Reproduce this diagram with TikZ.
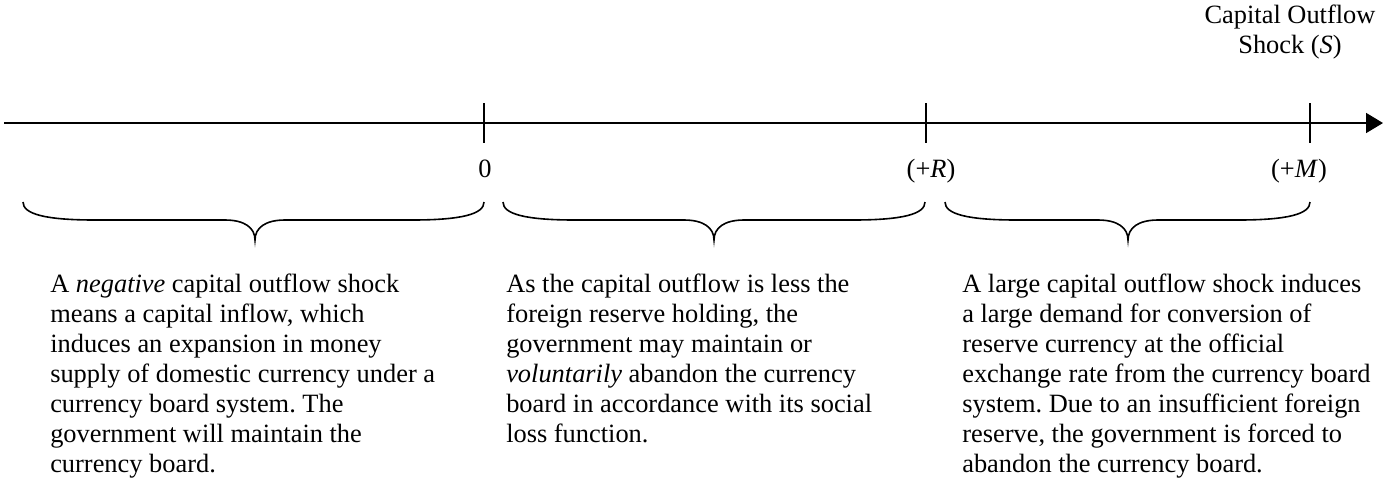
\documentclass[tikz,border=0pt]{standalone}
\usepackage{fontspec}
\setmainfont{Liberation Serif}
\usetikzlibrary{arrows.meta}
\frenchspacing
\newcommand\curlybrace[3]{% left x, tip x, right x
  \draw[bracestyle] (#1,202) .. controls (#1,214) and (#1+22,220) .. (#1+72,220)
    -- (#2-30,220) .. controls (#2-10,220) and (#2,228) .. (#2,240)
    .. controls (#2,228) and (#2+10,220) .. (#2+30,220)
    -- (#3-72,220) .. controls (#3-22,220) and (#3,214) .. (#3,202);}
\begin{document}
\begin{tikzpicture}[x=0.75pt,y=-0.75pt,
  axisline/.style={line width=1.3pt,black},
  tickline/.style={line width=1.3pt,black},
  bracestyle/.style={line width=1.2pt,black},
  lbl/.style={inner sep=0pt,anchor=base,font=\fontsize{19.8}{22.5}\selectfont},
  desc/.style={inner sep=0pt,anchor=base west,font=\fontsize{19.8}{22.5}\selectfont}]
\useasboundingbox (0,0) rectangle (1383,480);
\coordinate (a0) at (4,123);
\coordinate (a1) at (1383,123);
\draw[axisline,-{Triangle[length=12.75pt,width=15pt]}] (a0) -- (a1);
\coordinate (t0a) at (484,103); \coordinate (t0b) at (484,143);
\coordinate (tRa) at (926,103); \coordinate (tRb) at (926,143);
\coordinate (tMa) at (1310,103); \coordinate (tMb) at (1310,143);
\draw[tickline] (t0a) -- (t0b);
\draw[tickline] (tRa) -- (tRb);
\draw[tickline] (tMa) -- (tMb);
\node[lbl] (l0) at (485,177) {0};
\node[lbl] (lR) at (931,177) {(+\textit{R})};
\node[lbl] (lM) at (1299,177) {(+\textit{M})};
\node[lbl] (title) at (1290,23) {\begin{tabular}[t]{@{}c@{}}Capital Outflow\\Shock (\textit{S})\end{tabular}};
\curlybrace{23}{255}{484}
\curlybrace{503}{714}{925}
\curlybrace{945}{1128}{1310}
\node[desc] (d1) at (50,292) {\begin{tabular}[t]{@{}l@{}}A \textit{negative} capital outflow shock\\means a capital inflow, which\\induces an expansion in money\\supply of domestic currency under a\\currency board system. The\\government will maintain the\\currency board.\end{tabular}};
\node[desc] (d2) at (506,292) {\begin{tabular}[t]{@{}l@{}}As the capital outflow is less the\\foreign reserve holding, the\\government may maintain or\\\textit{voluntarily} abandon the currency\\board in accordance with its social\\loss function.\end{tabular}};
\node[desc] (d3) at (962,292) {\begin{tabular}[t]{@{}l@{}}A large capital outflow shock induces\\a large demand for conversion of\\reserve currency at the official\\exchange rate from the currency board\\system. Due to an insufficient foreign\\reserve, the government is forced to\\abandon the currency board.\end{tabular}};
\end{tikzpicture}
\end{document}
